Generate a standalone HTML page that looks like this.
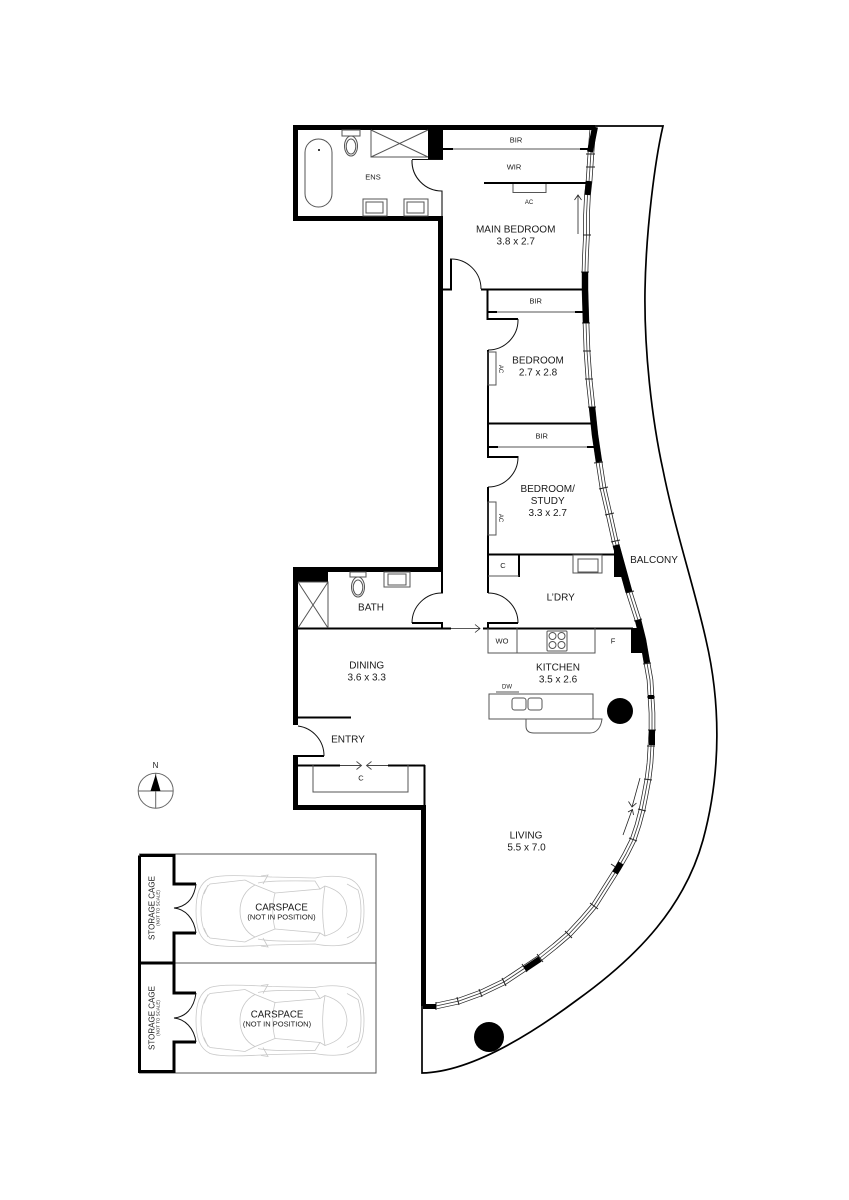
<!DOCTYPE html>
<html><head><meta charset="utf-8"><style>
html,body{margin:0;padding:0;background:#fff}
svg{display:block}
text{font-family:"Liberation Sans",sans-serif;fill:#1a1a1a;text-anchor:middle}
.l{font-size:10px}.s{font-size:7.500px}.t{font-size:6px}
.w{stroke:#000;fill:none;stroke-linecap:butt}
.g{stroke:#555;fill:none;stroke-width:1}
.c{stroke:#c8c8c8;fill:none;stroke-width:.8}
</style></head><body>
<svg width="849" height="1200" viewBox="0 0 849 1200" xmlns="http://www.w3.org/2000/svg">
<defs>
<polyline id="win" points="593,127 591,152 590,167 589,182 587.5,195 586.5,215 586.5,235 585.5,255 585,272 585,290 586,323 587,351 589,379 592,407 595,435 599,462 603,488 609,514 615,541 622,567 629,592 638,620 643,640 647,663 650,680 651,697 652,713 652,730 651,746 650,763 648,779 645,795 642,810 638,825 633,840 626,854 618,868 606,887 594,906 582,920 569,934 555,946 540,958 525,968 504,982 481,993 459,1001 436,1006"/>
<g id="car" class="c">
<path d="M196,911C196,893 200,883 210,878C222,874 250,876 272,877L315,878C330,875 345,876 352,880C362,886 364,897 364,911C364,925 362,936 352,942C345,946 330,947 315,944L272,945C250,946 222,948 210,944C200,939 196,929 196,911Z"/>
<path d="M201,911C201,897 204,889 210,884L245,880L255,885M201,911C201,925 204,933 210,938L245,942L255,937"/>
<path d="M255,885C245,890 240,900 240,911C240,922 245,932 255,937L275,929C272,917 272,905 275,893Z"/>
<path d="M258,883C270,880 300,881 315,881L320,889L275,893M258,939C270,942 300,941 315,941L320,933L275,929"/>
<path d="M325,886C322,902 322,920 325,936C338,932 346,926 347,911C346,896 338,890 325,886Z"/>
<path d="M320,889L325,886M320,933L325,936M347,884L358,890C362,902 362,920 358,932L347,938"/>
<path d="M261,876L268,875L263,884M261,946L268,947L263,938"/>
<path d="M208,885L204,894M208,937L204,928"/>
</g>
</defs>
<rect width="849" height="1200" fill="#fff"/>

<!-- balcony outline -->
<path d="M593,126L663,126C655,160 646,230 645,290C644,350 652,420 663,470C675,530 695,590 706,640C720,700 722,770 703,840C685,905 640,955 577,1000C530,1035 470,1072 422,1073L422,1006" fill="none" stroke="#000" stroke-width="1.7"/>

<!-- window bands -->
<use href="#win" fill="none" stroke="#222" stroke-width="6.500" stroke-linejoin="round"/>
<use href="#win" fill="none" stroke="#fff" stroke-width="5" stroke-linejoin="round"/>
<use href="#win" fill="none" stroke="#333" stroke-width=".8" stroke-linejoin="round"/>

<!-- mullions -->
<g stroke="#222" stroke-width="1" fill="none">
<path d="M586,154h9M586,167h9M583,235h8M581,272h8M582,323h8M583,351h8M585,379h8M588,407h8M594,463l9,-1M599,489l9,-2M605,515l9,-2M611,542l9,-2M626,593l8,-2M634,621l8,-2M643,664l8,-1M647,697h8M648,730h8M647,746h8M644,779l8,1M638,809l8,2M629,838l8,3M611,864l9,6M590,903l8,6M565,931l7,7M537,954l6,8M522,964l5,8M502,978l4,8M479,989l3,8M457,997l2,8M436,1002v8"/>
</g>

<!-- black wall segments on curve -->
<g class="w">
<path d="M595,127L590,152" stroke-width="6"/>
<path d="M588.700,181L587.500,195" stroke-width="6"/>
<path d="M585,272L585,290L586,323" stroke-width="6"/>
<path d="M592,407L595,435L599,462" stroke-width="6"/>
<path d="M616,545L629,592" stroke-width="7"/>
<path d="M638,620L643,640L647,663" stroke-width="6"/>
<path d="M651,695V699" stroke-width="6"/>
<path d="M652,730V745" stroke-width="6"/>
<path d="M621,863L615,873" stroke-width="6"/>
<path d="M540,959L525,969" stroke-width="6"/>
<path d="M423,1006.500L436,1006.500" stroke-width="5"/>
</g>
<path d="M614,550H619L627,577H614Z" fill="#000"/>
<path d="M631,628H638L645,653H631Z" fill="#000"/>

<!-- main thick walls -->
<g class="w" stroke-width="5">
<path d="M595,127.500H295.500V218.500H440.500V569.500H295.500V725"/>
<path d="M295.500,755V807.500H423.500V1006"/>
</g>
<rect x="428" y="130" width="15" height="29" fill="#000"/>
<rect x="293" y="567" width="35" height="15" fill="#000"/>

<!-- ensuite -->
<g class="g">
<rect x="305" y="139" width="27" height="68" rx="13.500"/>
<rect x="342" y="130" width="18" height="6"/>
<ellipse cx="351" cy="146" rx="6.500" ry="10"/>
<ellipse cx="351" cy="146.500" rx="4.800" ry="7.500"/>
<path d="M371,130V157H428M371,157L428,130M371,130L428,157"/>
<rect x="363" y="199" width="24" height="17"/>
<rect x="366" y="202" width="17" height="11"/>
<rect x="404" y="199" width="24" height="17"/>
<rect x="407" y="202" width="17" height="11"/>
</g>
<circle cx="319" cy="150" r="1" fill="#000"/>
<path d="M412,159.500H443M412,160A30,30 0 0 0 442,191V216" fill="none" stroke="#111" stroke-width="1.100"/>

<!-- main bedroom -->
<g class="g">
<path d="M443,149H590M487,312H585M488,447H597"/>
<rect x="513" y="183" width="33" height="9.500"/>
</g>
<g class="w" stroke-width="2">
<path d="M443,149H453M580,149H590"/>
<path d="M484,183H588"/>
<path d="M443,289.500H451V259M481,289.500H585"/>
<path d="M487.500,289V319H518"/>
<path d="M487,312H497M575,312H585"/>
<path d="M488,447H498M587,447H597"/>
</g>
<path d="M450,259A30,30 0 0 1 481,289" fill="none" stroke="#111" stroke-width="1"/>
<path d="M578,234V195M574.500,200L578,195L581.500,200" fill="none" stroke="#222" stroke-width=".8"/>

<!-- bedrooms -->
<path d="M518,319A30,30 0 0 1 488,350" fill="none" stroke="#111" stroke-width="1"/>
<path d="M518,456A30,30 0 0 1 488,487" fill="none" stroke="#111" stroke-width="1"/>
<g class="w" stroke-width="2">
<path d="M488,350V457H518M488,423.500H593"/>
<path d="M488,487V593"/>
<path d="M488,554.500H616"/>
<path d="M519,554V577"/>
</g>
<g class="g">
<rect x="488" y="352" width="8" height="33"/>
<rect x="488" y="502" width="8" height="33"/>
<path d="M488,576H519"/>
<rect x="573" y="555" width="29" height="18"/>
<rect x="578" y="559" width="20" height="13"/>
</g>

<!-- laundry / bath doors -->
<path d="M488,593A30,30 0 0 1 518,623M443,593A30,30 0 0 0 412,623" fill="none" stroke="#111" stroke-width="1"/>
<g class="w" stroke-width="2">
<path d="M487,623H518M488,622V629"/>
<path d="M412,623H443M442,622V629M442,572V593"/>
<path d="M298,628.500H451M483,628.500H633"/>
<path d="M298,717.500H351"/>
<path d="M293,756H324"/>
<path d="M298,765.500H340M388,765.500H425M424.500,765V806"/>
</g>
<path d="M451,628.500H480M475,624.500L480,628.500L475,632.500" fill="none" stroke="#222" stroke-width=".8"/>
<path d="M298,726A30,30 0 0 1 324,756" fill="none" stroke="#111" stroke-width="1"/>
<path d="M340,765.500H361M356.500,761.500L361.500,765.500L356.500,769.500M388,765.500H367M371.500,761.500L366.500,765.500L371.500,769.500" fill="none" stroke="#444" stroke-width=".9"/>

<!-- bath fittings -->
<g class="g">
<path d="M298,582H328V628M298,582L328,628M328,582L298,628"/>
<rect x="350" y="572" width="16" height="5"/>
<ellipse cx="358" cy="587" rx="6.500" ry="10"/>
<ellipse cx="358" cy="587.500" rx="4.800" ry="7.500"/>
<rect x="384" y="572" width="26" height="15"/>
<rect x="388" y="574" width="18" height="11"/>
<!-- kitchen -->
<path d="M488,628V653H595V628M517,628V653"/>
<rect x="547" y="631" width="20" height="20" rx="1"/>
<circle cx="552.500" cy="636" r="3.500"/><circle cx="561.500" cy="636" r="3.500"/>
<circle cx="552.500" cy="645" r="3.500"/><circle cx="561.500" cy="645" r="3.500"/>
<path d="M496,692H519"/>
<rect x="489" y="694" width="104" height="25"/>
<rect x="512" y="698" width="14" height="12" rx="2.500"/>
<rect x="528" y="698" width="14" height="12" rx="2.500"/>
<path d="M526,719V726C526,731 529,733 534,733H590C597,733 601,727 602,719H593"/>
<path d="M313,765V792H408V765"/>
</g>
<circle cx="620" cy="711" r="13" fill="#000"/>
<circle cx="489" cy="1037" r="15" fill="#000"/>

<!-- sliding door living -->
<path d="M623,835L632,810M628,812L632.500,809.500L633.500,815M640,778L632,807M628.500,801.500L632,807L636.500,803" fill="none" stroke="#222" stroke-width=".8"/>

<!-- compass -->
<g fill="none" stroke="#666" stroke-width="1">
<circle cx="155.700" cy="790.700" r="17.500"/>
<path d="M138,791H173.500M155.700,773V808"/>
</g>
<path d="M155.700,774.500L150.500,791H160.500Z" fill="#000"/>

<!-- carspaces -->
<path d="M139,854H376V1073H139M175,963H376" fill="none" stroke="#555" stroke-width="1"/>
<use href="#car"/>
<use href="#car" y="109.500"/>
<g class="w" stroke-width="3">
<path d="M139.500,855.500V1071.500H174V1042H196"/>
<path d="M139.500,855.500H174V884H196M196,933H174V963H139.500M174,963V993H196"/>
</g>
<path d="M196,884C194,900 185,907 174,908C185,909 194,918 196,933M196,993C194,1009 185,1017 174,1018C185,1019 194,1028 196,1042" fill="none" stroke="#111" stroke-width="1"/>

<!-- labels -->
<text class="s" x="516" y="142.500">BIR</text>
<text class="s" x="514" y="169.500">WIR</text>
<text class="s" x="373" y="179.500">ENS</text>
<text class="t" x="529" y="204">AC</text>
<text class="l" x="515.700" y="232.500">MAIN BEDROOM</text>
<text class="l" x="515.700" y="244.500">3.8 x 2.7</text>
<text class="s" x="535.700" y="303.500">BIR</text>
<text class="l" x="538" y="363.500">BEDROOM</text>
<text class="l" x="538" y="375.500">2.7 x 2.8</text>
<text class="t" transform="translate(499,369) rotate(90)">AC</text>
<text class="s" x="541.700" y="438.500">BIR</text>
<text class="l" x="547.700" y="492">BEDROOM/</text>
<text class="l" x="547.700" y="504">STUDY</text>
<text class="l" x="547.700" y="516">3.3 x 2.7</text>
<text class="t" transform="translate(499,518) rotate(90)">AC</text>
<text class="s" x="503" y="568">C</text>
<text class="l" x="654" y="563">BALCONY</text>
<text class="l" x="560.700" y="600.500">L’DRY</text>
<text class="l" x="371" y="610.500">BATH</text>
<text class="s" x="502" y="643.500">WO</text>
<text class="s" x="613" y="643.500">F</text>
<text class="l" x="366.700" y="668.500">DINING</text>
<text class="l" x="366.700" y="680.500">3.6 x 3.3</text>
<text class="l" x="558" y="670.500">KITCHEN</text>
<text class="l" x="558" y="682.500">3.5 x 2.6</text>
<text class="t" x="507" y="688.500">DW</text>
<text class="l" x="348" y="742.500">ENTRY</text>
<text class="s" x="361" y="780.500">C</text>
<text class="l" x="526" y="838.500">LIVING</text>
<text class="l" x="526.500" y="850.500">5.5 x 7.0</text>
<text x="155.500" y="768" style="font-size:8px">N</text>
<text style="font-size:8px" transform="translate(154.500,908) rotate(-90)">STORAGE CAGE</text>
<text style="font-size:4.500px" transform="translate(159.500,908) rotate(-90)">(NOT TO SCALE)</text>
<text style="font-size:8px" transform="translate(154.500,1018) rotate(-90)">STORAGE CAGE</text>
<text style="font-size:4.500px" transform="translate(159.500,1018) rotate(-90)">(NOT TO SCALE)</text>
<text style="font-size:9.700px" x="281.500" y="910.500">CARSPACE</text>
<text style="font-size:7.500px" x="281.500" y="919.500">(NOT IN POSITION)</text>
<text style="font-size:9.700px" x="277" y="1017.500">CARSPACE</text>
<text style="font-size:7.500px" x="277" y="1026.500">(NOT IN POSITION)</text>
</svg>
</body></html>
